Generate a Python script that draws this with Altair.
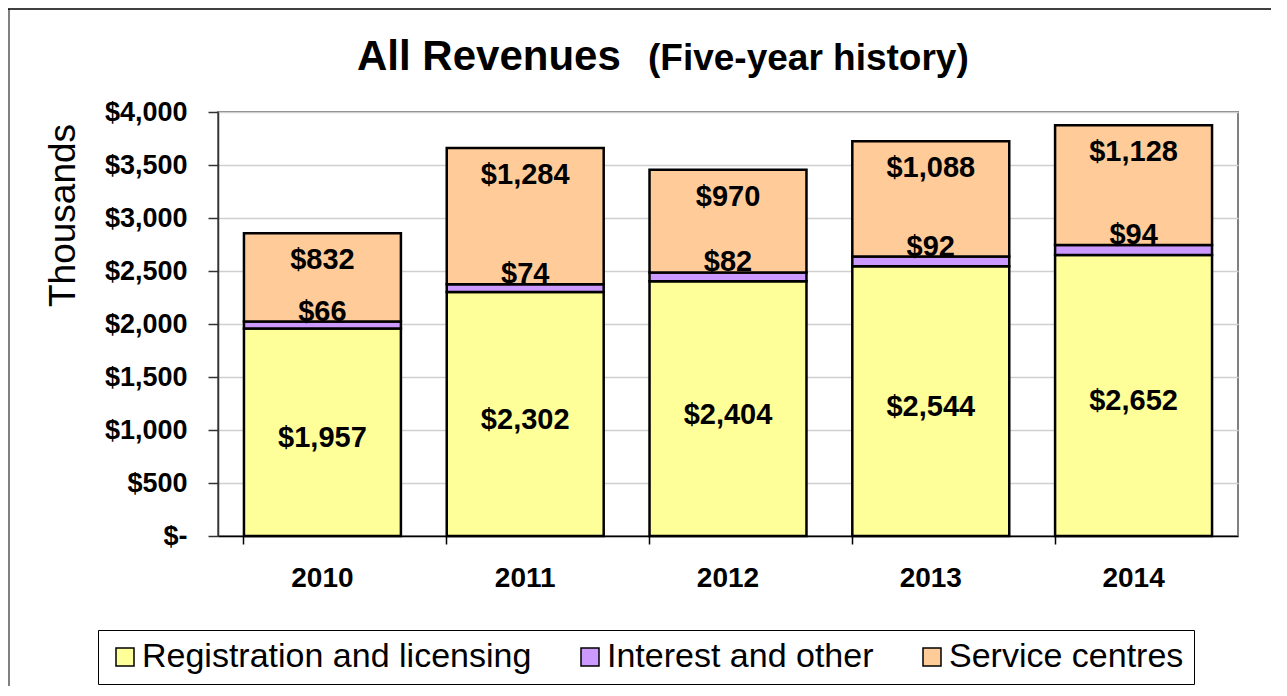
import altair as alt
import pandas as pd

years = ["2010", "2011", "2012", "2013", "2014"]
registration = [1957, 2302, 2404, 2544, 2652]
interest = [66, 74, 82, 92, 94]
service = [832, 1284, 970, 1088, 1128]
series_names = ["Registration and licensing", "Interest and other", "Service centres"]
series_colors = ["#FFFF99", "#CC99FF", "#FFCC99"]
y_ticks = [0, 500, 1000, 1500, 2000, 2500, 3000, 3500, 4000]
title_main = "All Revenues"
title_sub = "(Five-year history)"
y_title = "Thousands"

rows = []
for i, yr in enumerate(years):
    for k, (name, vals) in enumerate(zip(series_names, [registration, interest, service])):
        rows.append({"year": yr, "series": name, "value": vals[i], "order": k})
df = pd.DataFrame(rows)

FONT = "Liberation Sans"

x_axis = alt.Axis(
    title=None, labelFont=FONT, labelFontSize=28, labelFontWeight="bold",
    labelColor="black", labelAngle=0, labelPadding=20, tickSize=8,
    bandPosition=0, domainColor="black", tickColor="black",
    domainWidth=1.5, tickWidth=1.5, grid=False,
)
x_enc = alt.X("year:N", sort=years,
              scale=alt.Scale(paddingInner=0.226, paddingOuter=0.128),
              axis=x_axis)
y_scale = alt.Scale(domain=[0, 4000], nice=False)
y_axis = alt.Axis(
    title=y_title, values=y_ticks,
    labelExpr="datum.value == 0 ? '$-\u00a0\u00a0' : '$' + format(datum.value, ',')",
    labelFont=FONT, labelFontSize=27, labelFontWeight="bold", labelColor="black",
    labelPadding=21, tickSize=10, tickColor="#333333", tickWidth=1.5,
    domainColor="#333333", domainWidth=1.5,
    grid=True, gridColor="#d0d0d0", gridWidth=1.5,
    titleFont=FONT, titleFontSize=37, titleFontWeight="normal", titleColor="black",
    titleX=-144, titleY=103, titleBaseline="alphabetic", titleAngle=270,
    titleAlign="center",
)

base = alt.Chart(df).transform_stack(
    stack="value", groupby=["year"], as_=["v0", "v1"],
    sort=[alt.SortField("order", "ascending")],
).transform_calculate(label="'$' + format(datum.value, ',')")

bars = base.mark_bar(stroke="black", strokeWidth=2.5).encode(
    x=x_enc,
    y=alt.Y("v0:Q", scale=y_scale, axis=y_axis),
    y2="v1:Q",
    color=alt.Color(
        "series:N",
        scale=alt.Scale(domain=series_names, range=series_colors),
        legend=alt.Legend(
            title=None, orient="none", legendX=-120, legendY=518,
            direction="horizontal", columnPadding=41, padding=10,
            strokeColor="black", symbolType="square", symbolSize=324,
            symbolStrokeColor="black", symbolStrokeWidth=1.5,
            labelFont=FONT, labelFontSize=34, labelColor="black",
            labelLimit=700, labelOffset=0,
        ),
    ),
    order=alt.Order("order:Q"),
)

text_style = dict(font=FONT, fontSize=29, fontWeight="bold", color="black")

reg_labels = base.transform_filter("datum.order == 0").transform_calculate(
    mid="(datum.v0 + datum.v1) / 2"
).mark_text(baseline="middle", dy=6, **text_style).encode(
    x=x_enc, y=alt.Y("mid:Q", scale=y_scale, axis=y_axis), text="label:N"
)

int_labels = base.transform_filter("datum.order == 1").mark_text(
    baseline="alphabetic", dy=-1, **text_style
).encode(x=x_enc, y=alt.Y("v1:Q", scale=y_scale, axis=y_axis), text="label:N")

svc_labels = base.transform_filter("datum.order == 2").mark_text(
    baseline="middle", dy=27, **text_style
).encode(x=x_enc, y=alt.Y("v1:Q", scale=y_scale, axis=y_axis), text="label:N")

t1 = alt.Chart(pd.DataFrame({"t": [title_main]})).mark_text(
    font=FONT, fontSize=42, fontWeight="bold", color="black",
    align="left", baseline="alphabetic",
).encode(text="t:N", x=alt.value(139), y=alt.value(-42))

t2 = alt.Chart(pd.DataFrame({"t": [title_sub]})).mark_text(
    font=FONT, fontSize=37, fontWeight="bold", color="black",
    align="left", baseline="alphabetic",
).encode(text="t:N", x=alt.value(430), y=alt.value(-42))

frame_df = pd.DataFrame({"f": [0]})
frame_left = alt.Chart(frame_df).mark_rule(color="#808080", strokeWidth=2).encode(
    x=alt.value(-209), y=alt.value(-103), y2=alt.value(700)
)
frame_top = alt.Chart(frame_df).mark_rule(color="black", strokeWidth=1.5).encode(
    x=alt.value(-210), x2=alt.value(1300), y=alt.value(-103)
)

chart = alt.layer(
    frame_left, frame_top, bars, reg_labels, int_labels, svc_labels, t1, t2
).properties(
    width=1020, height=424,
    autosize=alt.AutoSizeParams(type="none"),
    padding={"left": 210, "top": 104, "right": 33, "bottom": 150},
    background="white",
).configure_view(stroke="#808080", strokeWidth=2)

chart.save("out.html", embed_options={"renderer": "svg", "actions": False})
